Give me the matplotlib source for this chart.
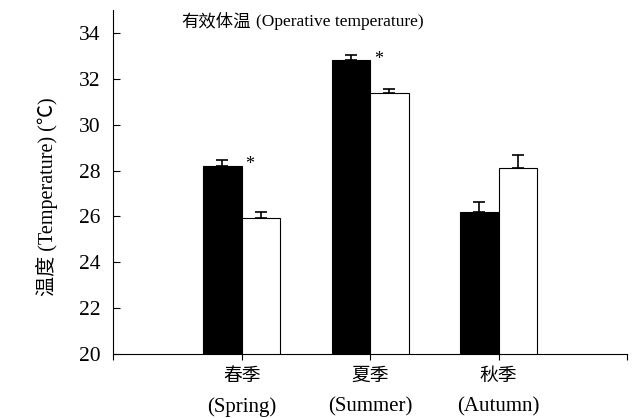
import numpy as np
import matplotlib.pyplot as plt

plt.rcParams['font.family'] = ['Liberation Serif', 'Noto Sans CJK SC', 'DejaVu Sans']

seasons_cn = ['春季', '夏季', '秋季']
seasons_en = ['(Spring)', '(Summer)', '(Autumn)']
black_vals = [28.2, 32.8, 26.2]
black_err = [0.25, 0.23, 0.45]
white_vals = [25.95, 31.4, 28.1]
white_err = [0.25, 0.17, 0.6]
stars = [True, True, False]

x = np.arange(1, len(seasons_cn) + 1)
w = 0.3

fig = plt.figure(figsize=(6.36, 4.18), dpi=100)
ax = fig.add_axes([0.178, 0.153, 0.808, 0.823])

ax.bar(x - w / 2, black_vals, w, color='black', edgecolor='black', linewidth=0.8,
       yerr=[np.zeros(3), black_err], capsize=4, error_kw=dict(elinewidth=1.2, capthick=1.2))
ax.bar(x + w / 2, white_vals, w, color='white', edgecolor='black', linewidth=0.8,
       yerr=[np.zeros(3), white_err], capsize=4, error_kw=dict(elinewidth=1.2, capthick=1.2))

for xi, v, s in zip(x, black_vals, stars):
    if s:
        ax.text(xi + 0.03, v + 0.05, '*', fontsize=13, ha='left', va='center')

ax.set_xlim(0, 4)
ax.set_ylim(20, 35)
ax.set_yticks(np.arange(20, 35, 2))
ax.set_xticks([0, 1, 2, 3, 4])
ax.set_xticklabels([])
ax.tick_params(axis='y', labelsize=15.5, direction='in', length=5, pad=9)
ax.tick_params(axis='x', direction='out', length=4)
ax.spines['top'].set_visible(False)
ax.spines['right'].set_visible(False)

# two-line category labels: Chinese name, English name below
for xi, cn, en in zip(x, seasons_cn, seasons_en):
    ax.annotate(cn, (xi, 0), xycoords=('data', 'axes fraction'), xytext=(0, -16),
                textcoords='offset points', ha='center', va='center', fontsize=13.5)
    ax.annotate(en, (xi, 0), xycoords=('data', 'axes fraction'), xytext=(0, -38),
                textcoords='offset points', ha='center', va='center', fontsize=15)

ax.set_ylabel('温度 (Temperature) (℃)', fontsize=14.5)
ax.yaxis.set_label_coords(-0.107, 0.456)

ax.annotate('有效体温', (1.09, 34.47), xytext=(-2, 0), textcoords='offset points',
            ha='right', va='center', fontsize=12.5)
ax.annotate('(Operative temperature)', (1.09, 34.47), xytext=(2, 0), textcoords='offset points',
            ha='left', va='center', fontsize=12.5)

fig.savefig('out.png', dpi=100)
